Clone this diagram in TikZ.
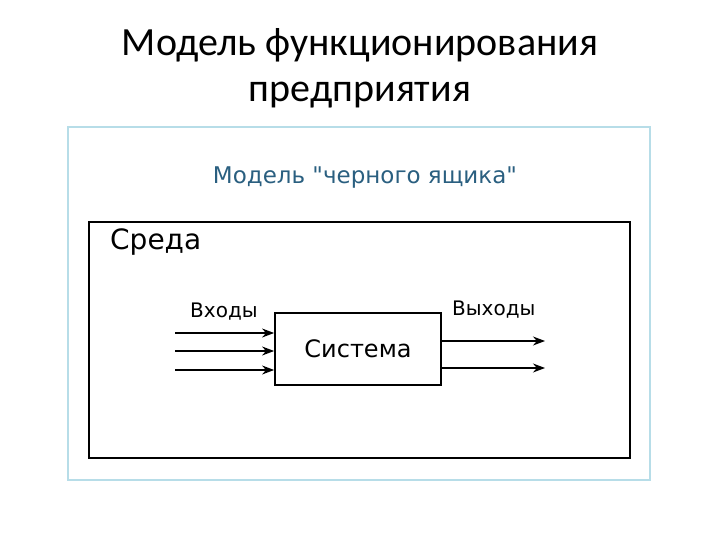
\documentclass[tikz,border=0pt]{standalone}
\usepackage{fontspec}
\setmainfont{DejaVu Sans}[Ligatures=TeXOff]
\newfontfamily\titlefont{Carlito}
\usetikzlibrary{arrows.meta}
\definecolor{frameblue}{HTML}{B7DDE8}
\definecolor{captionblue}{HTML}{2A5F80}
\tikzset{
  arr/.style={line width=1.3pt,-{Stealth[length=12pt,width=9pt]}},
  lbl/.style={inner sep=0pt,font=\fontsize{20}{24}\selectfont}
}
\begin{document}
\begin{tikzpicture}[x=1pt,y=-1pt]
\useasboundingbox (0,0) rectangle (720,540);
\node[font=\titlefont\fontsize{40}{46}\selectfont] (t1) at (360,45) {Модель функционирования};
\node[font=\titlefont\fontsize{40}{46}\selectfont] (t2) at (360,95) {предприятия};
\draw[frameblue,line width=1.5pt] (68,127) rectangle (650,480);
\node[font=\fontsize{23}{26}\selectfont,text=captionblue] (cap) at (365,178) {Модель "черного ящика"};
\draw[line width=1.8pt] (89,222) rectangle (630,458);
\node[anchor=west,inner sep=0pt,font=\fontsize{28}{32}\selectfont] (env) at (110,242) {Среда};
\node[draw,line width=1.8pt,minimum width=166pt,minimum height=72pt,inner sep=0pt] (sys) at (358,349) {};
\node[inner sep=0pt,font=\fontsize{24}{28}\selectfont] at (358,349) {Система};
\node[lbl,anchor=west] (in) at (190,312) {Входы};
\node[lbl,anchor=west] (out) at (452,310) {Выходы};
\coordinate (i1) at (175,333); \coordinate (i2) at (175,351); \coordinate (i3) at (175,370);
\coordinate (o1) at (545,341); \coordinate (o2) at (545,368);
\draw[arr] (i1) -- (i1 -| sys.west);
\draw[arr] (i2) -- (i2 -| sys.west);
\draw[arr] (i3) -- (i3 -| sys.west);
\draw[arr] (o1 -| sys.east) -- (o1);
\draw[arr] (o2 -| sys.east) -- (o2);
\end{tikzpicture}
\end{document}
